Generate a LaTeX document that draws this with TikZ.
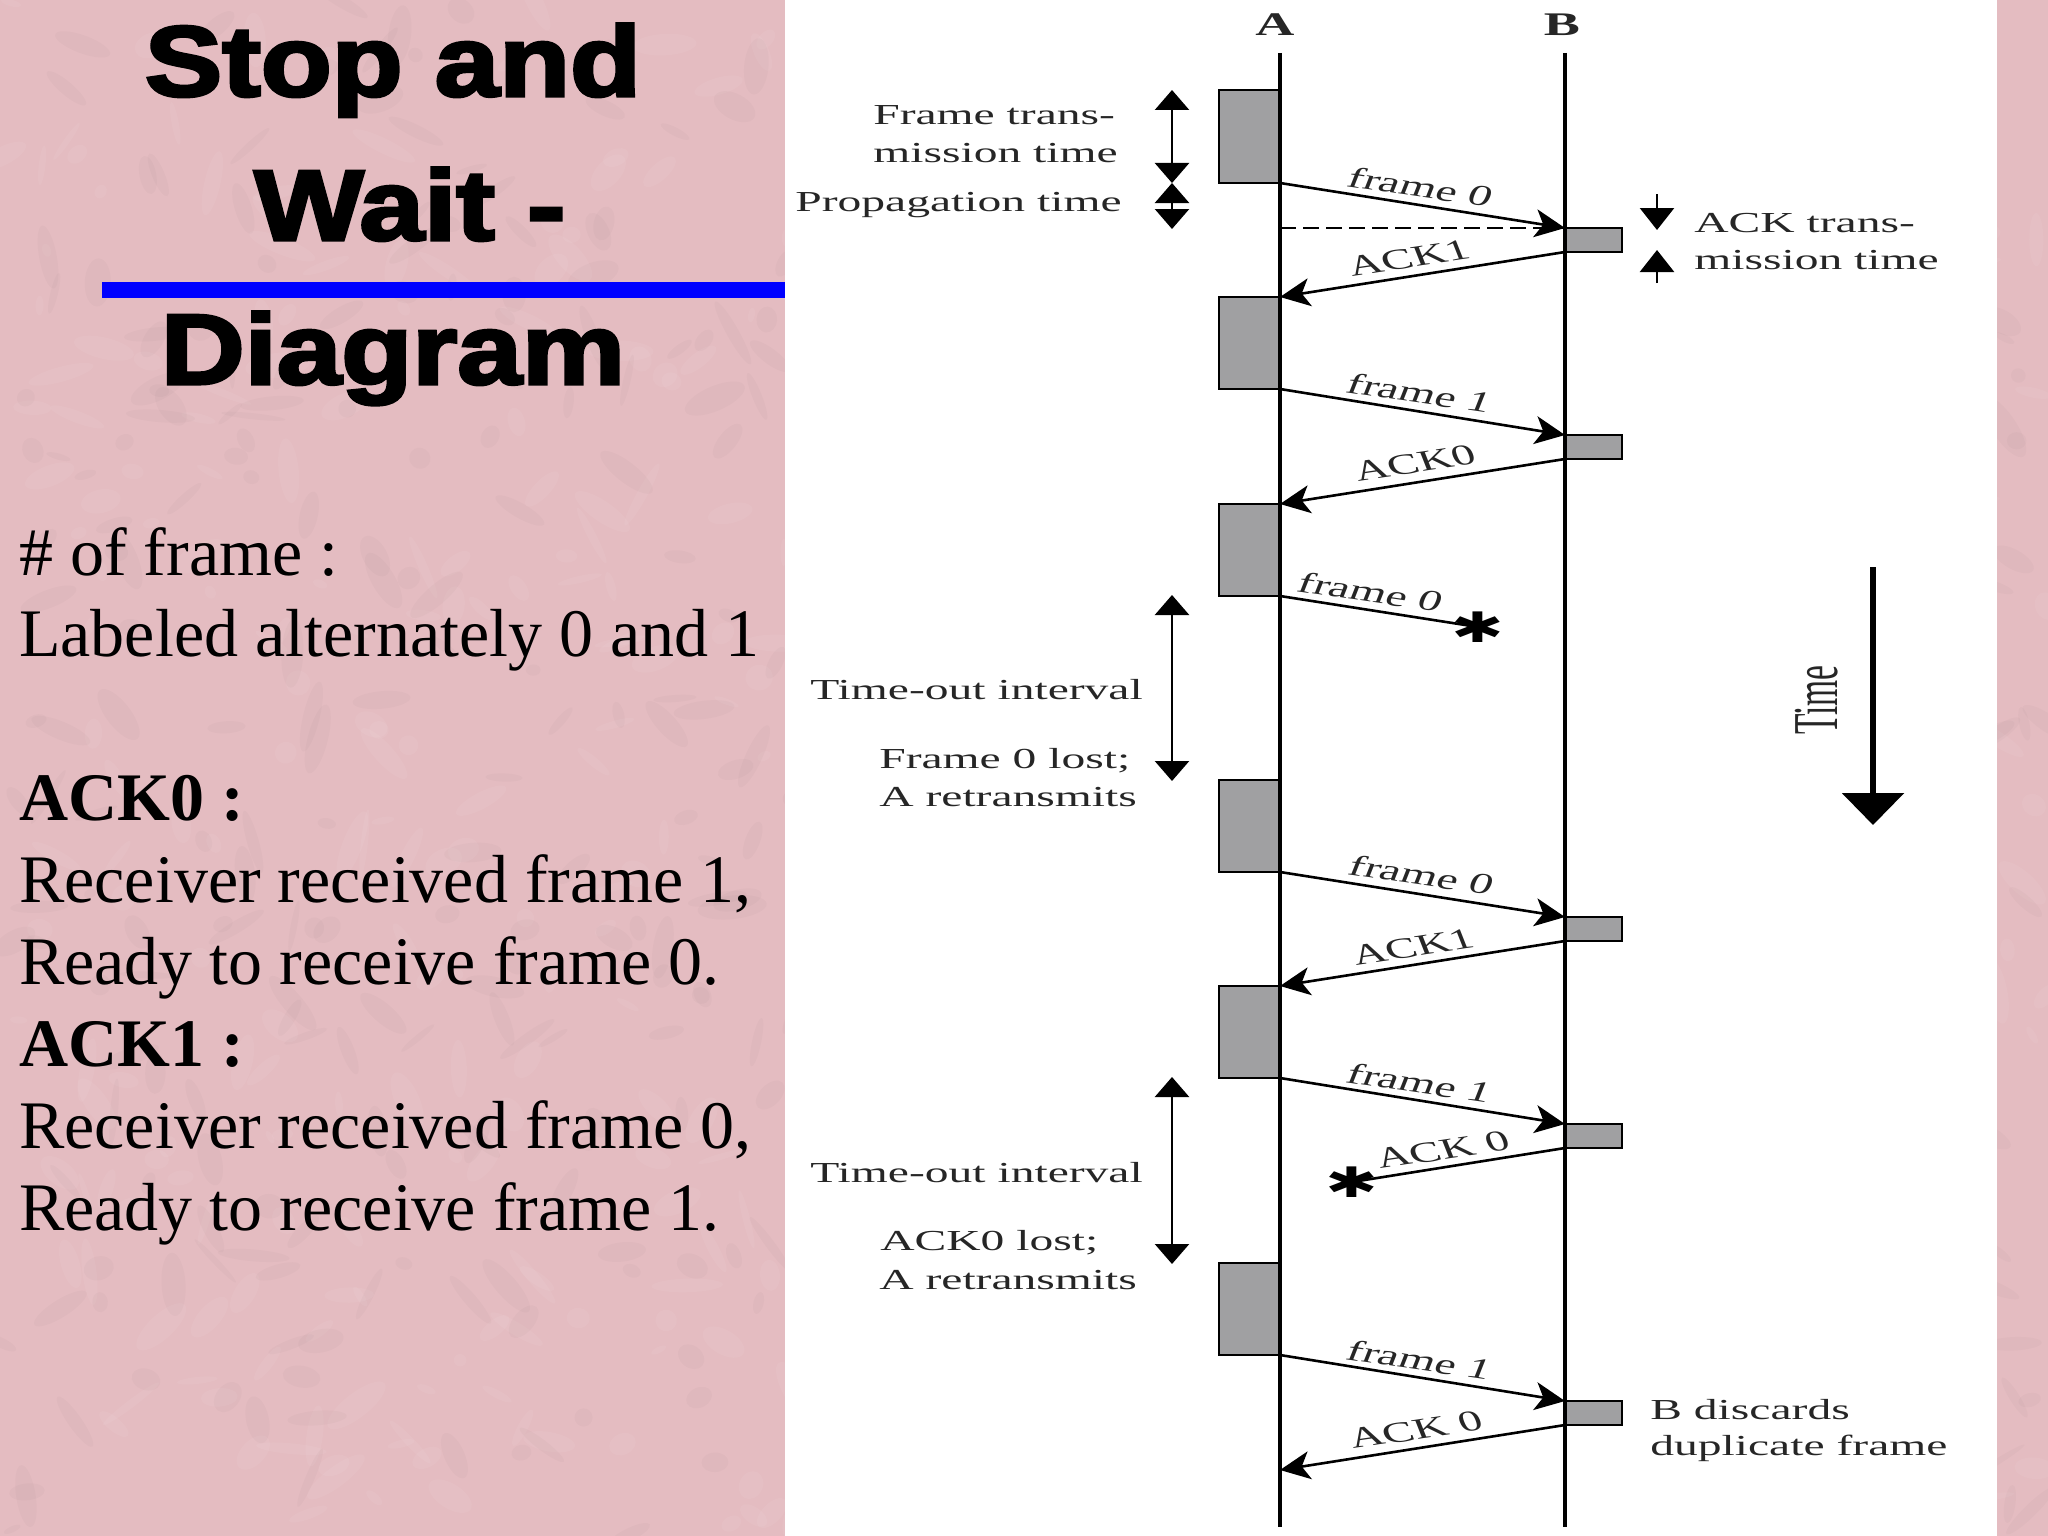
\documentclass[tikz,border=0pt]{standalone}
\usepackage{fontspec}
\setmainfont{Liberation Serif}
\newfontfamily\ttlfont[BoldFeatures={FakeBold=3}]{Liberation Sans}
\newfontfamily\starfont{DejaVu Sans}
\usetikzlibrary{arrows.meta}
\definecolor{pinkbg}{RGB}{228,188,193}
\definecolor{boxgray}{RGB}{160,160,162}
\tikzset{
  x=1pt,y=-1pt,
  framebox/.style={draw=black,line width=2.8pt,fill=boxgray,inner sep=0pt,outer sep=0pt,anchor=north west},
  msg/.style={line width=2.6pt,-{Stealth[length=30pt,width=28pt,inset=8pt]}},
  lost/.style={line width=2.6pt},
  life/.style={line width=3.2pt},
  dim/.style={line width=2.6pt,{Triangle[length=20pt,width=34pt]}-{Triangle[length=20pt,width=34pt]}},
  dimdown/.style={line width=2.6pt,-{Triangle[length=22pt,width=34pt]}},
  lbl/.style={font=\fontsize{29}{34}\selectfont,xscale=1.64,inner sep=0pt,text=black!85},
  lblw/.style={lbl,anchor=west},
  title/.style={font=\fontsize{100}{100}\selectfont\ttlfont\bfseries,xscale=1.16,anchor=base,inner sep=0pt},
  body/.style={font=\fontsize{68}{82}\selectfont,anchor=base west,inner sep=0pt},
  starmark/.style={font=\fontsize{42}{42}\selectfont\starfont,xscale=1.5,inner sep=0pt},
}
\begin{document}
\begin{tikzpicture}
\useasboundingbox (0,0) rectangle (2048,1536);
\fill[pinkbg] (0,0) rectangle (2048,1536);
\begin{scope}
\clip (0,0) rectangle (2048,1536);
\pgfmathsetseed{11}
\foreach \i in {1,...,1100}{
  \pgfmathsetmacro{\px}{rnd*2048}
  \pgfmathsetmacro{\py}{rnd*1536}
  \pgfmathsetmacro{\pa}{rnd*30+6}
  \pgfmathsetmacro{\pb}{rnd*10+3}
  \pgfmathsetmacro{\pr}{rnd*180}
  \pgfmathparse{int(mod(\i,2))}
  \ifnum\pgfmathresult=0
    \fill[white,opacity=.05,rotate around={\pr:(\px,\py)}] (\px,\py) ellipse [x radius=\pa pt,y radius=\pb pt];
  \else
    \fill[black!40!pinkbg,opacity=.05,rotate around={\pr:(\px,\py)}] (\px,\py) ellipse [x radius=\pa pt,y radius=\pb pt];
  \fi
}
\end{scope}
\fill[white] (785,0) rectangle (1997,1536);
\fill[blue] (102,282) rectangle (785,298);

% title
\node[title] (t1) at (393,96) {Stop and};
\node[title] (t2) at (410,240) {Wait -};
\node[title] (t3) at (393,384) {Diagram};

% body
\node[body] (b1) at (19,575) {\# of frame :};
\node[body] (b2) at (19,656) {Labeled alternately 0 and 1};
\node[body] (b3) at (19,820) {\textbf{ACK0 :}};
\node[body] (b4) at (19,902) {Receiver received frame 1,};
\node[body] (b5) at (19,984) {Ready to receive frame 0.};
\node[body] (b6) at (19,1066) {\textbf{ACK1 :}};
\node[body] (b7) at (19,1148) {Receiver received frame 0,};
\node[body] (b8) at (19,1230) {Ready to receive frame 1.};

% life lines
\node[lbl,font=\fontsize{33}{34}\selectfont\bfseries] (A) at (1275,25) {A};
\node[lbl,font=\fontsize{33}{34}\selectfont\bfseries] (B) at (1562,25) {B};
\coordinate (Atop) at (1280,53); \coordinate (Abot) at (1280,1527);
\coordinate (Btop) at (1565,53); \coordinate (Bbot) at (1565,1527);

% frame boxes
\node[framebox,minimum width=61pt,minimum height=93pt] (a1) at (1219,90) {};
\node[framebox,minimum width=61pt,minimum height=92pt] (a2) at (1219,297) {};
\node[framebox,minimum width=61pt,minimum height=92pt] (a3) at (1219,504) {};
\node[framebox,minimum width=61pt,minimum height=92pt] (a4) at (1219,780) {};
\node[framebox,minimum width=61pt,minimum height=92pt] (a5) at (1219,986) {};
\node[framebox,minimum width=61pt,minimum height=92pt] (a6) at (1219,1263) {};
\node[framebox,minimum width=57pt,minimum height=24pt] (c1) at (1565,228) {};
\node[framebox,minimum width=57pt,minimum height=24pt] (c2) at (1565,435) {};
\node[framebox,minimum width=57pt,minimum height=24pt] (c3) at (1565,917) {};
\node[framebox,minimum width=57pt,minimum height=24pt] (c4) at (1565,1124) {};
\node[framebox,minimum width=57pt,minimum height=24pt] (c5) at (1565,1401) {};

\draw[life] (Atop) -- (Abot);
\draw[life] (Btop) -- (Bbot);

% messages
\draw[msg] (a1.south east) -- (c1.north west);
\draw[msg] (c1.south west) -- (a2.north east);
\draw[msg] (a2.south east) -- (c2.north west);
\draw[msg] (c2.south west) -- (a3.north east);
\node[starmark] (s1) at (1478,627) {✱};
\draw[lost] (a3.south east) -- (s1.center);
\draw[msg] (a4.south east) -- (c3.north west);
\draw[msg] (c3.south west) -- (a5.north east);
\draw[msg] (a5.south east) -- (c4.north west);
\node[starmark] (s2) at (1352,1182) {✱};
\draw[lost] (c4.south west) -- (s2.center);
\draw[msg] (a6.south east) -- (c5.north west);
\coordinate (a7) at (1280,1470);
\draw[msg] (c5.south west) -- (a7);
\coordinate (d1) at (1280,228);
\draw[line width=2.8pt,dash pattern=on 16pt off 7pt] (d1) -- (c1.north west);

% message labels
\node[lbl,rotate=-13.5] (m1) at (1421,187) {frame 0};
\node[lbl,rotate=13.5] (m2) at (1409,258) {ACK1};
\node[lbl,rotate=-13.5] (m3) at (1420,393) {frame 1};
\node[lbl,rotate=13.5] (m4) at (1415,463) {ACK0};
\node[lbl,rotate=-13.5] (m5) at (1371,592) {frame 0};
\node[lbl,rotate=-13.5] (m6) at (1422,875) {frame 0};
\node[lbl,rotate=13.5] (m7) at (1413,947) {ACK1};
\node[lbl,rotate=-13.5] (m8) at (1420,1083) {frame 1};
\node[lbl,rotate=13.5] (m9) at (1443,1150) {ACK 0};
\node[lbl,rotate=-13.5] (m10) at (1420,1360) {frame 1};
\node[lbl,rotate=13.5] (m11) at (1416,1430) {ACK 0};

% dimension arrows
\coordinate (f1) at (1172,90); \coordinate (f2) at (1172,183); \coordinate (f3) at (1172,229);
\draw[dim] (f1) -- (f2);
\draw[dim] (f2) -- (f3);
\coordinate (k1) at (1657,194); \coordinate (k2) at (1657,230);
\coordinate (k3) at (1657,283); \coordinate (k4) at (1657,250);
\draw[dimdown] (k1) -- (k2);
\draw[dimdown] (k3) -- (k4);
\coordinate (o1) at (1172,595); \coordinate (o2) at (1172,781);
\draw[dim] (o1) -- (o2);
\coordinate (o3) at (1172,1077); \coordinate (o4) at (1172,1264);
\draw[dim] (o3) -- (o4);

% time arrow
\coordinate (T1) at (1873,567); \coordinate (T2) at (1873,825);
\draw[line width=6.5pt,-{Triangle[length=32pt,width=61pt]}] (T1) -- (T2);
\node[lbl,rotate=90,xscale=.86,font=\fontsize{39}{40}\selectfont] (Tl) at (1817,700) {Time};

% side labels
\node[lblw] (l1) at (873,115) {Frame trans-};
\node[lblw] (l2) at (873,153) {mission time};
\node[lblw] (l3) at (795,205) {Propagation time};
\node[lblw] (l4) at (1694,223) {ACK trans-};
\node[lblw] (l5) at (1694,260) {mission time};
\node[lblw] (l6) at (810,690) {Time-out interval};
\node[lblw] (l7) at (879,761) {Frame 0 lost;};
\node[lblw] (l8) at (879,797) {A retransmits};
\node[lblw] (l9) at (810,1173) {Time-out interval};
\node[lblw] (l10) at (880,1243) {ACK0 lost;};
\node[lblw] (l11) at (879,1280) {A retransmits};
\node[lblw] (l12) at (1650,1410) {B discards};
\node[lblw] (l13) at (1650,1448) {duplicate frame};
\end{tikzpicture}
\end{document}
